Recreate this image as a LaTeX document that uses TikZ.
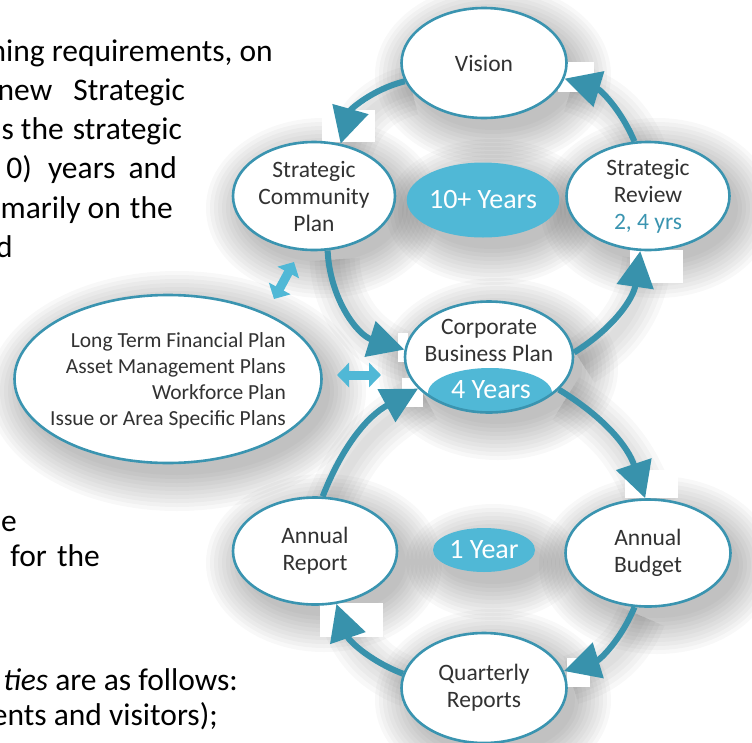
\documentclass[tikz,border=0pt]{standalone}
\usepackage{fontspec}
\setmainfont{Carlito}
\usetikzlibrary{arrows.meta,shapes.geometric}
\definecolor{ringteal}{RGB}{56,146,172}
\definecolor{rimteal}{RGB}{58,148,176}
\definecolor{skyfill}{RGB}{80,184,214}
\definecolor{nodegray}{RGB}{50,50,50}
\pgfdeclarelayer{haze}
\pgfdeclarelayer{patch}
\pgfsetlayers{haze,patch,main}

\begin{document}
\begin{tikzpicture}[x=1pt,y=-1pt,
 stage/.style={ellipse,draw=rimteal,line width=2.6pt,fill=white,inner sep=0pt,text=nodegray,align=center,font=\fontsize{23.5}{27}\selectfont},
 span/.style={ellipse,fill=skyfill,inner sep=0pt,text=white,font=\fontsize{28}{30}\selectfont},
 flow/.style={draw=ringteal,line width=6pt,-{Triangle[length=36pt,width=36pt]}},
 link/.style={draw=skyfill,line width=9pt,{Triangle[length=12pt,width=24pt]}-{Triangle[length=12pt,width=24pt]}},
 body/.style={anchor=base east,inner sep=0pt,font=\fontsize{31.5}{38}\selectfont},
 glow/.style={black,opacity=.028}]
 \useasboundingbox (0,0) rectangle (752,742);
 \clip (0,0) rectangle (752,742);

 % text of the page beside the figure
 \node[body] (l1) at (273,61) {ning requirements, on};
 \node[body] (l2) at (185,100) {new\hspace{14pt} Strategic};
 \node[body] (l3) at (182,139) {s the\hspace{2pt} strategic};
 \node[body] (l4) at (177,178) {0)\hspace{9pt} years\hspace{6pt} and};
 \node[body] (l5) at (173,218) {marily on\hspace{2pt} the};
 \node[body] (l6) at (13,257) {d};
 \node[body] (l7) at (17,531) {e};
 \node[body] (l8) at (100,566) {for\hspace{3pt} the};
 \node[body] (l9) at (238,690) {\textit{ties} are as follows:};
 \node[body] (l10) at (218,725) {ents and visitors);};

 % planning cycle
 \node[stage,minimum width=165,minimum height=110] (vision) at (484,63) {Vision};
 \node[stage,minimum width=162,minimum height=108] (scp) at (314,196) {Strategic\\Community\\Plan};
 \node[span,minimum width=140,minimum height=75] (tenyrs) at (483,200) {10+ Years};
 \node[stage,minimum width=163,minimum height=108] (review) at (648,196) {Strategic\\Review\\\textcolor{rimteal}{2, 4 yrs}};
 \node[stage,minimum width=168,minimum height=111,
  path picture={\fill[skyfill] ([shift={(1pt,-36pt)}]path picture bounding box.center) ellipse (62 and 25);}] (cbp) at (489,357) {};
 \node[text=nodegray,align=center,font=\fontsize{23.5}{27}\selectfont] (cbptext) at (489,340) {Corporate\\Business Plan};
 \node[text=white,font=\fontsize{28}{30}\selectfont] (fouryrs) at (491,390) {4 Years};
 \node[stage,minimum width=307,minimum height=168] (plans) at (168,379) {};
 \node[text=nodegray,align=right,font=\fontsize{21.5}{26}\selectfont] (planlist) at (168,381)
  {Long Term Financial Plan\\Asset Management Plans\\Workforce Plan\\Issue or Area Specific Plans};
 \node[stage,minimum width=164,minimum height=107] (report) at (315,551) {Annual\\Report};
 \node[span,minimum width=102,minimum height=44] (oneyr) at (484,550) {1 Year};
 \node[stage,minimum width=165,minimum height=107] (budget) at (648,553) {Annual\\Budget};
 \node[stage,minimum width=165,minimum height=110] (quarter) at (484,688) {Quarterly\\Reports};

 \foreach \s/\e/\a in {vision.193/scp.63/30,review.104/vision.349/25,scp.284/cbp.175/35,cbp.3/review.262/25}
  \draw[flow] (\s) to[bend right=\a] (\e);
 \foreach \s/\e/\a in {report.82/cbp.204/20,cbp.335/budget.93/20,budget.256/quarter.12/25,quarter.170/report.292/25}
  \draw[flow] (\s) to[bend left=\a] (\e);

 \coordinate (h1) at (337,375);
 \coordinate (h2) at (381,375);
 \coordinate (d1) at (294,262);
 \coordinate (d2) at (274,299);
 \draw[link] (h1) -- (h2);
 \draw[link] (d1) -- (d2);

 % soft shadow and the white notches in it
 \begin{pgfonlayer}{haze}
  \foreach \n/\rx/\ry in {vision/82/55,scp/81/54,tenyrs/70/37,review/81/54,cbp/84/55,plans/153/84,report/82/53,oneyr/51/22,budget/82/53,quarter/82/55}
   \foreach \g in {0,4,...,36}
    \fill[glow] ([shift={(9pt,-12pt)}]\n.center) ellipse ({\rx+\g} and {\ry+\g});
  \foreach \s/\e/\a in {vision.193/scp.63/30,review.104/vision.349/25,scp.284/cbp.175/35,cbp.3/review.262/25}
   \foreach \w in {10,20,...,50}
    \draw[glow,line width=\w pt,transform canvas={shift={(7pt,-9pt)}}] (\s) to[bend right=\a] (\e);
  \foreach \s/\e/\a in {report.82/cbp.204/20,cbp.335/budget.93/20,budget.256/quarter.12/25,quarter.170/report.292/25}
   \foreach \w in {10,20,...,50}
    \draw[glow,line width=\w pt,transform canvas={shift={(7pt,-9pt)}}] (\s) to[bend left=\a] (\e);
 \end{pgfonlayer}
 \begin{pgfonlayer}{patch}
  \fill[white] (322,110) rectangle (375,142);
  \fill[white] (558,62) rectangle (594,92);
  \fill[white] (630,250) rectangle (683,283);
  \fill[white] (398,333) rectangle (408,362);
  \fill[white] (402,378) rectangle (423,407);
  \fill[white] (625,470) rectangle (678,498);
  \fill[white] (567,658) rectangle (590,687);
  \fill[white] (320,603) rectangle (383,637);
 \end{pgfonlayer}
\end{tikzpicture}
\end{document}
